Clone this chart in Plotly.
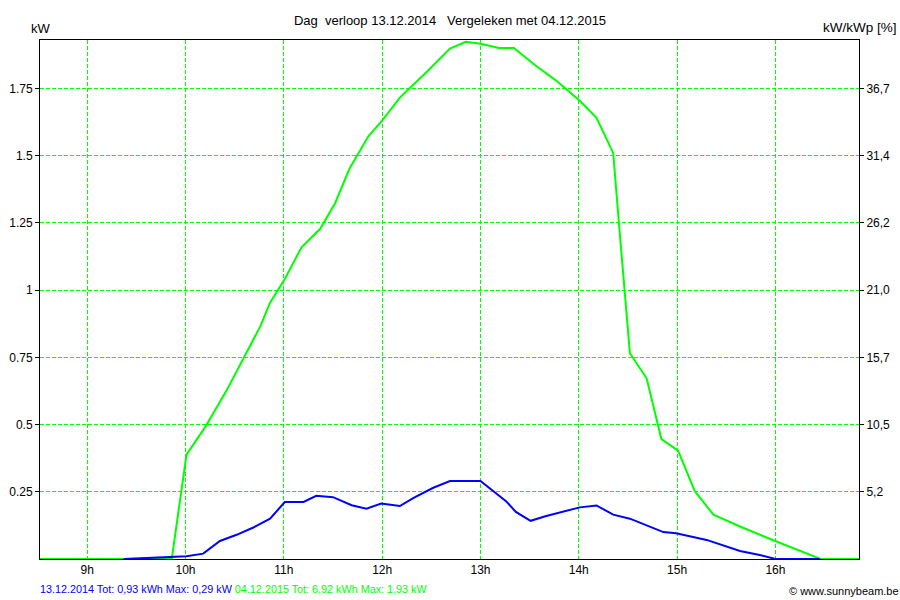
import plotly.graph_objects as go

# uur van de dag / vermogen in kW
blue_h = [9.37, 9.74, 10.01, 10.18, 10.35, 10.52, 10.69, 10.86, 11.01, 11.20, 11.33, 11.50,
          11.69, 11.84, 11.99, 12.18, 12.32, 12.52, 12.69, 13.0, 13.26, 13.36, 13.51, 13.66,
          14.01, 14.18, 14.35, 14.52, 14.86, 14.99, 15.30, 15.64, 15.84, 16.0, 16.45]
blue_kw = [0, 0.005, 0.01, 0.02, 0.067, 0.09, 0.117, 0.15, 0.212, 0.212, 0.235, 0.23,
           0.20, 0.187, 0.206, 0.197, 0.227, 0.265, 0.29, 0.29, 0.215, 0.175, 0.142, 0.159,
           0.192, 0.199, 0.165, 0.15, 0.10, 0.096, 0.071, 0.03, 0.015, 0, 0]

green_h = [8.52, 9.86, 10.01, 10.21, 10.42, 10.62, 10.76, 10.86, 11.01, 11.18, 11.37, 11.52,
           11.67, 11.86, 12.01, 12.18, 12.45, 12.69, 12.85, 13.0, 13.19, 13.34, 13.56, 13.77,
           14.01, 14.18, 14.35, 14.41, 14.47, 14.52, 14.69, 14.84, 15.01, 15.18, 15.37, 15.64,
           16.01, 16.36, 16.46, 16.85]
green_kw = [0, 0, 0.388, 0.496, 0.628, 0.765, 0.865, 0.953, 1.041, 1.159, 1.228, 1.322,
            1.453, 1.572, 1.635, 1.716, 1.81, 1.898, 1.923, 1.916, 1.90, 1.90, 1.835, 1.779,
            1.704, 1.641, 1.51, 1.241, 0.99, 0.765, 0.672, 0.446, 0.403, 0.252, 0.165, 0.121,
            0.065, 0.013, 0, 0]

hour_ticks = [9, 10, 11, 12, 13, 14, 15, 16]
hour_labels = ['9h', '10h', '11h', '12h', '13h', '14h', '15h', '16h']
kw_ticks = [0.25, 0.5, 0.75, 1, 1.25, 1.5, 1.75]
kw_labels = ['0.25', '0.5', '0.75', '1', '1.25', '1.5', '1.75']
pct_labels = ['5,2', '10,5', '15,7', '21,0', '26,2', '31,4', '36,7']

GREEN = '#00ff00'
BLUE = '#0000ff'
FONT = 'Liberation Sans, Arial, sans-serif'
y_range = [0, 1.93]

fig = go.Figure()
fig.add_trace(go.Scatter(x=green_h, y=green_kw, mode='lines',
                         line=dict(color=GREEN, width=2), name='04.12.2015'))
fig.add_trace(go.Scatter(x=blue_h, y=blue_kw, mode='lines',
                         line=dict(color=BLUE, width=2), name='13.12.2014'))
# onzichtbare trace zodat de rechter as getekend wordt
fig.add_trace(go.Scatter(x=[9], y=[0], yaxis='y2', mode='markers',
                         marker=dict(opacity=0), hoverinfo='skip', showlegend=False))

fig.update_layout(
    width=900, height=600,
    margin=dict(l=40, r=41, t=40, b=41, autoexpand=False),
    paper_bgcolor='white', plot_bgcolor='white',
    showlegend=False,
    font=dict(family=FONT, size=12, color='black'),
    title=dict(text='Dag\u00a0 verloop 13.12.2014\u00a0\u00a0 Vergeleken met 04.12.2015',
               x=0.5, xanchor='center', y=0.966, yanchor='middle',
               font=dict(size=13)),
    xaxis=dict(range=[8.52, 16.85], tickvals=hour_ticks, ticktext=hour_labels,
               showgrid=True, gridcolor=GREEN, griddash='4px,2px', gridwidth=1,
               showline=True, linecolor='black', linewidth=1, mirror=True,
               ticks='', zeroline=False, tickfont=dict(size=12), automargin=False),
    yaxis=dict(range=y_range, tickvals=kw_ticks, ticktext=kw_labels,
               showgrid=True, gridcolor=GREEN, griddash='4px,2px', gridwidth=1,
               showline=True, linecolor='black', linewidth=1, mirror=True,
               ticks='outside', ticklen=4, tickcolor='black', zeroline=False,
               tickfont=dict(size=12), automargin=False),
    yaxis2=dict(range=y_range, overlaying='y', side='right', tickvals=kw_ticks,
                ticktext=pct_labels, showgrid=False, zeroline=False,
                ticks='outside', ticklen=4, tickcolor='black', tickfont=dict(size=12),
                automargin=False),
)

fig.add_annotation(text='kW', xref='paper', yref='paper', x=0, xshift=-11, y=1.0, yshift=2,
                   xanchor='left', yanchor='bottom', showarrow=False, font=dict(size=13))
fig.add_annotation(text='kW/kWp [%]', xref='paper', yref='paper', x=1.0, xshift=40,
                   y=1.0, yshift=3, xanchor='right', yanchor='bottom', showarrow=False,
                   font=dict(size=13.5))
fig.add_annotation(
    text=("<span style='color:#0000ff'>13.12.2014 Tot: 0,93 kWh Max: 0,29 kW</span> "
          "<span style='color:#00ff00'>04.12.2015 Tot: 6,92 kWh Max: 1,93 kW</span>"),
    xref='paper', yref='paper', x=0, xshift=-2, y=0, yshift=-30, xanchor='left',
    yanchor='middle', showarrow=False, font=dict(size=10.8))
fig.add_annotation(text='© www.sunnybeam.be', xref='paper', yref='paper', x=1.0,
                   xshift=42, y=0, yshift=-32, xanchor='right', yanchor='middle',
                   showarrow=False, font=dict(size=11))

fig.write_html("out.html", config={'displayModeBar': False},
               post_script="document.body.style.margin='0';")
